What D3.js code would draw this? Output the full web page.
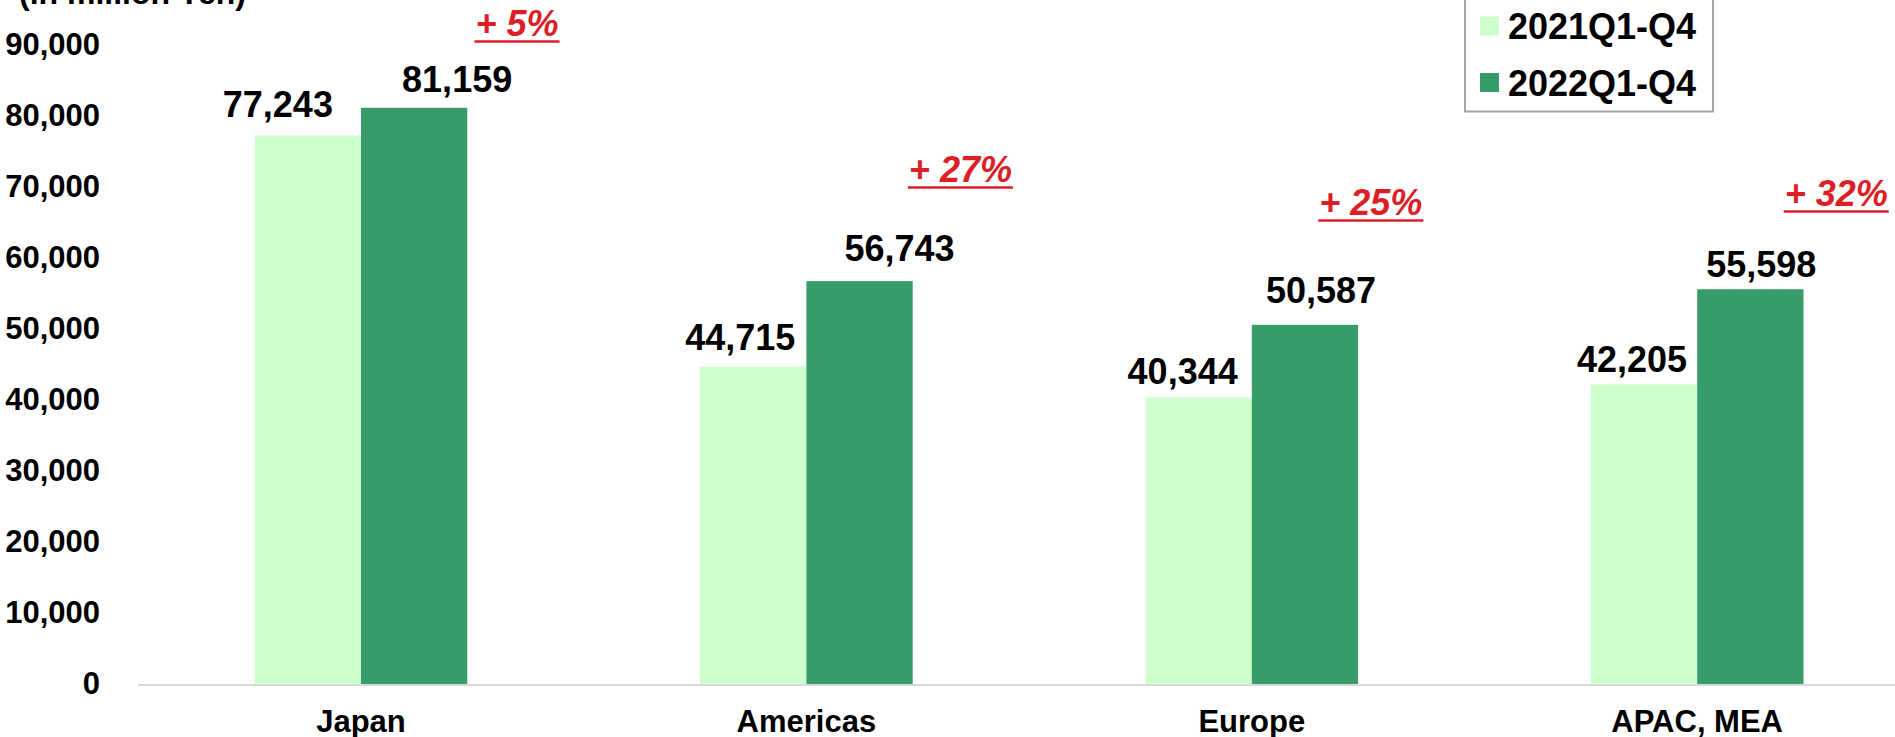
<!DOCTYPE html>
<html>
<head>
<meta charset="utf-8">
<script src="https://cdn.jsdelivr.net/npm/d3@7"></script>
<style>
  html, body { margin: 0; padding: 0; background: #ffffff; overflow: hidden; }
  svg { display: block; }
  text { font-family: "Liberation Sans", Arial, sans-serif; font-weight: bold; }
</style>
</head>
<body>
<svg id="chart" width="1895" height="737"></svg>
<script>
// Regional revenue, million yen
const regions = ["Japan", "Americas", "Europe", "APAC, MEA"];
const seriesNames = ["2021Q1-Q4", "2022Q1-Q4"];
const sales2021 = [77243, 44715, 40344, 42205];
const sales2022 = [81159, 56743, 50587, 55598];
const yTicks = [0, 10000, 20000, 30000, 40000, 50000, 60000, 70000, 80000, 90000];

// Layout: per-label nudges for the value labels [dx, dy] (pixels) and growth-callout placement
const valueLabelNudge = [
  [[-30, -19], [43, -16]],
  [[-13, -17], [40, -20]],
  [[-16, -14], [16, -22]],
  [[-12, -12], [11, -12]]
];
const growthLabelPlace = [[156, 36], [154, 182], [119, 215], [139, 206]];

const colors = { "2021Q1-Q4": "#ccffcc", "2022Q1-Q4": "#379b6a" };
const red = "#dc1f27";

const svg = d3.select("#chart");

const y = d3.scaleLinear().domain([0, 90000]).range([684, 45]);
const x = d3.scaleBand().domain(regions).range([138.3, 1919.9])
  .paddingInner(0.5227).paddingOuter(0.26135);
const xs = d3.scaleBand().domain(seriesNames).range([0, x.bandwidth()]);

const fmt = d3.format(",");

// Title (unit)
svg.append("text").attr("x", 19).attr("y", 4)
  .attr("font-size", 32).attr("fill", "#000").text("(in million Yen)");

// Y-axis labels
const yAxis = d3.axisLeft(y).tickValues(yTicks).tickFormat(fmt).tickSize(0).tickPadding(0);
const yg = svg.append("g").attr("transform", "translate(100,0)").call(yAxis);
yg.select(".domain").remove();
yg.selectAll("text").attr("font-size", 31).attr("fill", "#000")
  .attr("font-family", "'Liberation Sans', Arial, sans-serif").attr("font-weight", "bold");

// Baseline
svg.append("line").attr("x1", 138).attr("x2", 1895)
  .attr("y1", y(0) + 1).attr("y2", y(0) + 1)
  .attr("stroke", "#d9d9d9").attr("stroke-width", 2);

// Bars
const rows = regions.map((r, i) => ({ region: r, i, values: [sales2021[i], sales2022[i]] }));
const groups = svg.append("g").selectAll("g").data(rows).join("g")
  .attr("transform", d => `translate(${x(d.region)},0)`);

groups.selectAll("rect")
  .data(d => d.values.map((v, k) => ({ v, k, s: seriesNames[k], i: d.i })))
  .join("rect")
  .attr("x", d => xs(d.s))
  .attr("width", xs.bandwidth())
  .attr("y", d => y(d.v))
  .attr("height", d => y(0) - y(d.v))
  .attr("fill", d => colors[d.s]);

// Value labels
groups.selectAll("text.val")
  .data(d => d.values.map((v, k) => ({ v, k, s: seriesNames[k], i: d.i })))
  .join("text").attr("class", "val")
  .attr("x", d => xs(d.s) + xs.bandwidth() / 2 + valueLabelNudge[d.i][d.k][0])
  .attr("y", d => y(d.v) + valueLabelNudge[d.i][d.k][1])
  .attr("text-anchor", "middle").attr("font-size", 36).attr("fill", "#000")
  .text(d => fmt(d.v));

// Category labels
svg.append("g").selectAll("text").data(regions).join("text")
  .attr("x", d => x(d) + x.bandwidth() / 2)
  .attr("y", 731.5)
  .attr("text-anchor", "middle").attr("font-size", 31).attr("fill", "#000")
  .text(d => d);

// Growth callouts
const growth = svg.append("g");
regions.forEach((r, i) => {
  const pct = Math.round((sales2022[i] / sales2021[i] - 1) * 100);
  const cx = x(r) + x.bandwidth() / 2 + growthLabelPlace[i][0];
  const by = growthLabelPlace[i][1];
  const t = growth.append("text")
    .attr("x", cx).attr("y", by).attr("text-anchor", "middle")
    .attr("font-size", 36).attr("font-style", "italic").attr("fill", red)
    .text(`+ ${pct}%`);
  const w = t.node().getComputedTextLength();
  growth.append("line")
    .attr("x1", cx - w / 2 - 1).attr("x2", cx + w / 2 + 1)
    .attr("y1", by + 5.5).attr("y2", by + 5.5)
    .attr("stroke", red).attr("stroke-width", 2.5);
});

// Legend
const lg = svg.append("g");
lg.append("rect").attr("x", 1465).attr("y", -20).attr("width", 248).attr("height", 131.5)
  .attr("fill", "#fff").attr("stroke", "#a6a6a6").attr("stroke-width", 2);
seriesNames.forEach((s, k) => {
  const by = 39 + k * 56.5;
  lg.append("rect").attr("x", 1480).attr("y", by - 22.5).attr("width", 19).attr("height", 19)
    .attr("fill", colors[s]);
  lg.append("text").attr("x", 1508).attr("y", by)
    .attr("font-size", 36).attr("fill", "#000").text(s);
});
</script>
</body>
</html>
